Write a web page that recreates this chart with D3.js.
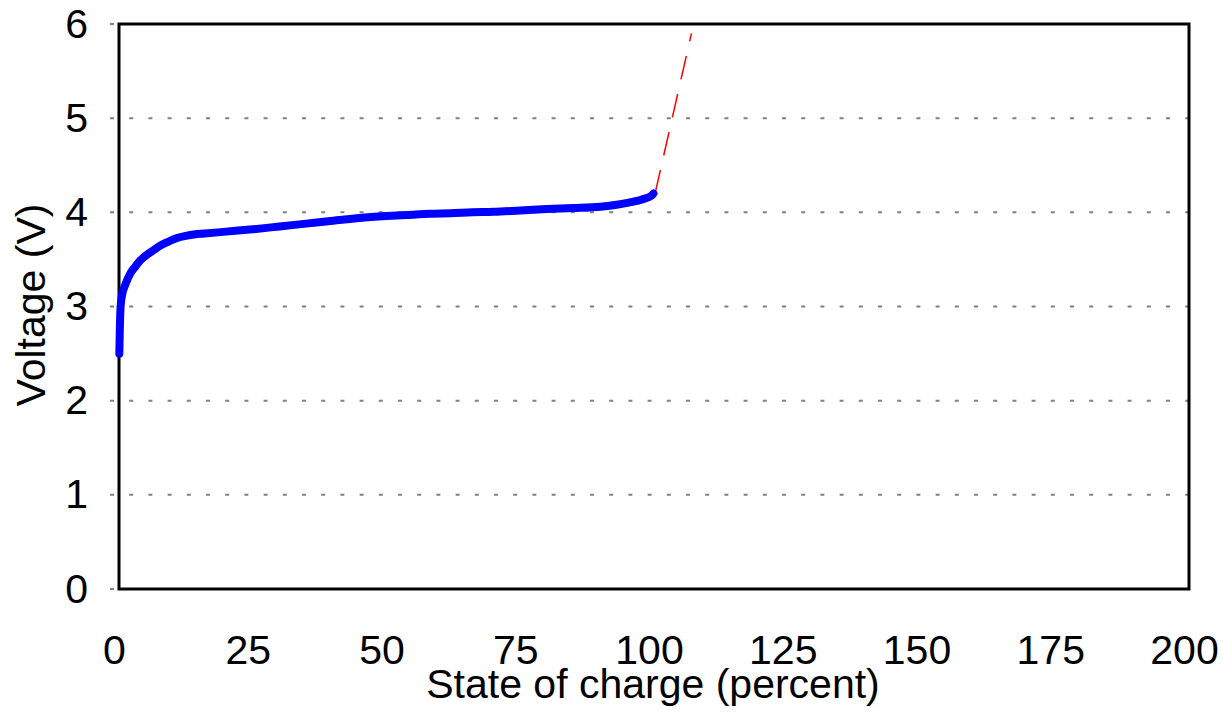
<!DOCTYPE html>
<html>
<head>
<meta charset="utf-8">
<script src="https://cdn.jsdelivr.net/npm/d3@7"></script>
<style>
    body { margin: 0; background: #fff; }
    svg text { font-family: "Liberation Sans", Arial, sans-serif; fill: #000; }
</style>
</head>
<body>
<svg id="chart"></svg>
<script>
// Measured charge curve (state of charge %, volts)
const socValues = [0.06, 0.15, 0.3, 0.6, 1.1, 1.6, 2.1, 3, 4, 5, 6.5, 8, 9.5, 11, 12.5, 14, 16,
    20, 25, 30, 35, 40, 45, 50, 55, 58, 62, 66, 70, 75, 80, 85, 90, 93, 95, 97, 98.5, 99.5, 99.9];
const voltValues = [2.5, 2.75, 3.0, 3.13, 3.22, 3.29, 3.35, 3.42, 3.49, 3.54, 3.6, 3.655, 3.695, 3.73, 3.75, 3.765, 3.775,
    3.795, 3.82, 3.85, 3.88, 3.91, 3.94, 3.96, 3.975, 3.985, 3.99, 4.0, 4.005, 4.02, 4.035, 4.045, 4.06, 4.08, 4.1, 4.125, 4.15, 4.175, 4.2];

// Overcharge extrapolation (dashed)
const extSoc = [100.2, 107.0];
const extVolt = [4.2, 5.9];

const xTicks = [0, 25, 50, 75, 100, 125, 150, 175, 200];
const yTicks = [0, 1, 2, 3, 4, 5, 6];

const width = 1222;
const height = 723;
const fontSize = 41;

const svg = d3.select('#chart')
    .attr('width', width)
    .attr('height', height);

const x = d3.scaleLinear().domain([0, 200]).range([119, 1189]);
const y = d3.scaleLinear().domain([0, 6]).range([589, 24]);

// dotted gridlines
svg.append('g')
    .selectAll('line')
    .data(yTicks)
    .enter().append('line')
    .attr('x1', 110)
    .attr('x2', x(200))
    .attr('y1', d => y(d))
    .attr('y2', d => y(d))
    .attr('stroke', '#808080')
    .attr('stroke-width', 2)
    .attr('stroke-dasharray', '4,15.2');

// x axis labels (sit a few px left of the tick, like the original)
const xAxis = svg.append('g')
    .attr('transform', `translate(0,${y(0)})`)
    .call(d3.axisBottom(x).tickValues(xTicks).tickFormat(d3.format('d')).tickSize(0).tickPadding(46));
xAxis.select('.domain').remove();
xAxis.attr('font-size', fontSize).attr('font-family', '"Liberation Sans", Arial, sans-serif');
xAxis.selectAll('text').attr('dx', -5);

// y axis labels
const yAxis = svg.append('g')
    .attr('transform', `translate(${x(0)},0)`)
    .call(d3.axisLeft(y).tickValues(yTicks).tickFormat(d3.format('d')).tickSize(0).tickPadding(31));
yAxis.select('.domain').remove();
yAxis.attr('font-size', fontSize).attr('font-family', '"Liberation Sans", Arial, sans-serif');

// plot frame
svg.append('rect')
    .attr('x', x(0))
    .attr('y', y(6))
    .attr('width', x(200) - x(0))
    .attr('height', y(0) - y(6))
    .attr('fill', 'none')
    .attr('stroke', '#000')
    .attr('stroke-width', 3);

// dashed red extrapolation
const extData = extSoc.map((s, i) => ({ s: s, v: extVolt[i] }));
svg.append('path')
    .datum(extData)
    .attr('d', d3.line().x(d => x(d.s)).y(d => y(d.v)))
    .attr('fill', 'none')
    .attr('stroke', '#ff0000')
    .attr('stroke-width', 1.5)
    .attr('stroke-dasharray', '24,15');

// blue charge curve
const curveData = socValues.map((s, i) => ({ s: s, v: voltValues[i] }));
svg.append('path')
    .datum(curveData)
    .attr('d', d3.line().curve(d3.curveMonotoneX).x(d => x(d.s)).y(d => y(d.v)))
    .attr('fill', 'none')
    .attr('stroke', '#0000ff')
    .attr('stroke-width', 8)
    .attr('stroke-linecap', 'round')
    .attr('stroke-linejoin', 'round');

// axis titles
svg.append('text')
    .attr('x', (x(0) + x(200)) / 2 - 1)
    .attr('y', 698)
    .attr('text-anchor', 'middle')
    .attr('font-size', fontSize)
    .text('State of charge (percent)');

svg.append('text')
    .attr('transform', `translate(45,${305}) rotate(-90)`)
    .attr('text-anchor', 'middle')
    .attr('font-size', fontSize)
    .text('Voltage (V)');
</script>
</body>
</html>
